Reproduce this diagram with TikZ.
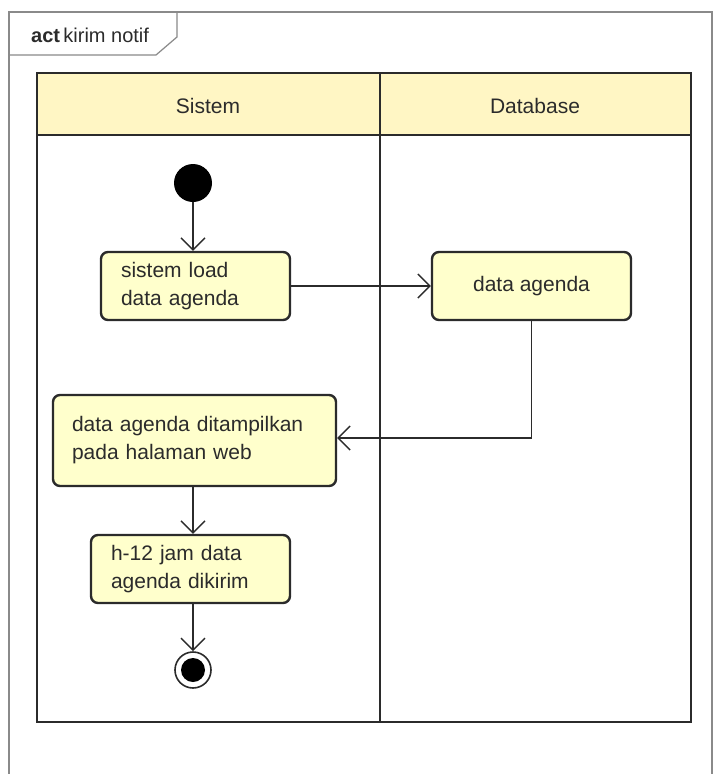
\documentclass[tikz,border=0pt]{standalone}
\usepackage{fontspec}
\setmainfont{Liberation Sans}
\usetikzlibrary{arrows.meta}
\definecolor{actfill}{HTML}{FFFFCC}
\definecolor{headfill}{HTML}{FFF6C4}
\definecolor{ink}{HTML}{2B2B2B}
\definecolor{framegray}{HTML}{8A8A8A}
\tikzset{
  action/.style={draw=ink, fill=actfill, line width=2.4pt, rounded corners=7pt,
    align=left, inner sep=0pt, text=ink, font=\fontsize{21}{28}\selectfont},
  flow/.style={draw=ink, line width=1.4pt,
    -{Straight Barb[length=12pt,width=24pt,line width=1.4pt]}},
  lane/.style={draw=ink, line width=2.4pt},
  lanetext/.style={text=ink, font=\fontsize{21}{24}\selectfont},
}
\begin{document}
\begin{tikzpicture}[x=1pt,y=-1pt]
\useasboundingbox (0,0) rectangle (715,774);
\fill[white] (0,0) rectangle (715,774);

% frame and its name tab
\draw[framegray, line width=1.2pt] (9,774) -- (9,12) -- (712,12) -- (712,774);
\draw[framegray, line width=1.2pt] (9,55) -- (156,55) -- (177,37) -- (177,12);
\node[anchor=west, text=ink, font=\fontsize{20}{22}\selectfont, inner sep=0pt] (tab) at (31,35)
  {\textbf{act}\,kirim notif};

% swimlanes
\fill[white] (37,73) rectangle (691,722);
\fill[headfill] (37,73) rectangle (691,135);
\draw[lane] (37,73) rectangle (691,722);
\draw[lane] (37,135) -- (691,135);
\draw[lane] (380,73) -- (380,722);
\node[lanetext] (hsys) at (208,106) {Sistem};
\node[lanetext] (hdb) at (535,106) {Database};

% start and end
\node[circle, fill=black, minimum size=38pt, inner sep=0pt] (start) at (193,183) {};
\node[circle, draw=ink, line width=1.6pt, fill=white, minimum size=36pt, inner sep=0pt] (end) at (193,670) {};
\node[circle, fill=black, minimum size=24pt, inner sep=0pt] (endin) at (193,670) {};

% actions
\node[action, minimum width=189pt, minimum height=68pt, text width=149pt] (load) at (195.5,286)
  {sistem load\\data agenda};
\node[action, minimum width=199pt, minimum height=68pt, align=center] (db) at (531.5,286)
  {data agenda};
\node[action, minimum width=283pt, minimum height=91pt, text width=245pt] (show) at (194.5,440.5)
  {data agenda ditampilkan\\pada halaman web};
\node[action, minimum width=199pt, minimum height=68pt, text width=159pt] (send) at (190.5,569)
  {h-12 jam data\\agenda dikirim};

% flows
\draw[flow] (start) -- (load.north -| start);
\draw[flow] (load) -- (db);
\coordinate (bend) at (db.south |- 0,438);
\draw[flow] (db.south) -- (bend) -- (show.east |- bend);
\draw[flow] (show.south -| start) -- (send.north -| start);
\draw[flow] (send.south -| start) -- (end);
\end{tikzpicture}
\end{document}
